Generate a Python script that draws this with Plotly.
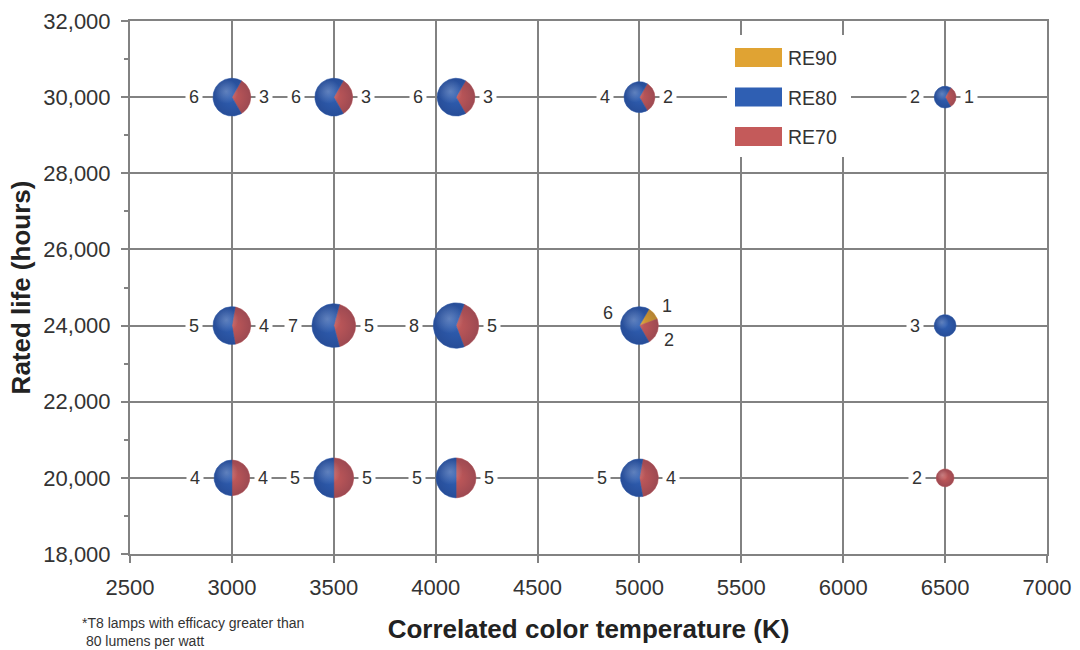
import numpy as np
import plotly.graph_objects as go

# ---- data: lamp counts by correlated color temperature and rated life ----
cct = [3000, 3500, 4100, 5000, 6500,
       3000, 3500, 4100, 5000, 6500,
       3000, 3500, 4100, 5000, 6500]
rated_life = [30000, 30000, 30000, 30000, 30000,
              24000, 24000, 24000, 24000, 24000,
              20000, 20000, 20000, 20000, 20000]
re90 = [0, 0, 0, 0, 0,
        0, 0, 0, 1, 0,
        0, 0, 0, 0, 0]
re80 = [6, 6, 6, 4, 2,
        5, 7, 8, 6, 3,
        4, 5, 5, 5, 0]
re70 = [3, 3, 3, 2, 1,
        4, 5, 5, 2, 0,
        4, 5, 5, 4, 2]

series_names = ["RE90", "RE80", "RE70"]
series_colors = ["#e0a333", "#2f5fb3", "#c45a5a"]

x_tickvals = [2500, 3000, 3500, 4000, 4500, 5000, 5500, 6000, 6500, 7000]
y_tickvals = [18000, 20000, 22000, 24000, 26000, 28000, 30000, 32000]

# ---- geometry of the page ----
W, H = 1080, 650
ML, MR, MT, MB = 130, 33, 21, 96
PW, PH = W - ML - MR, H - MT - MB
XR, YR = [2500, 7000], [18000, 32000]
px_per_x = PW / (XR[1] - XR[0])
px_per_y = PH / (YR[1] - YR[0])
R_SCALE = 6.3          # pie radius (px) per sqrt(lamp count)

FONT = "Liberation Sans, Arial, Helvetica, sans-serif"
GRID = "#828282"
TXT = "#333333"


def arc_points(cx, cy, r, a0, a1):
    """Points on a circle; angles in degrees, clockwise from 12 o'clock."""
    n = max(6, int(abs(a1 - a0) / 2.5) + 1)
    t = np.radians(np.linspace(a0, a1, n))
    return cx + r * np.sin(t) / px_per_x, cy + r * np.cos(t) / px_per_y


fig = go.Figure()
annotations = []
shade_x, shade_y, shade_s = [], [], []
hl_x, hl_y, hl_s = [], [], []

for i in range(len(cct)):
    cx, cy = cct[i], rated_life[i]
    counts = {"RE90": re90[i], "RE80": re80[i], "RE70": re70[i]}
    total = sum(counts.values())
    r = R_SCALE * np.sqrt(total)

    # slices go clockwise: RE90, RE70, RE80; the warm part is centred at 3 o'clock
    start = 90 - (counts["RE90"] + counts["RE70"]) / total * 180
    ang = start
    for name in ["RE90", "RE70", "RE80"]:
        v = counts[name]
        if v == 0:
            continue
        span = v / total * 360
        xs, ys = arc_points(cx, cy, r, ang, ang + span)
        if span < 359.9:
            xs = np.concatenate([[cx], xs, [cx]])
            ys = np.concatenate([[cy], ys, [cy]])
        col = series_colors[series_names.index(name)]
        fig.add_trace(go.Scatter(
            x=xs, y=ys, mode="lines", fill="toself", fillcolor=col,
            line=dict(color=col, width=0.6), hoverinfo="skip", showlegend=False))
        ang += span

    shade_x.append(cx)
    shade_y.append(cy)
    shade_s.append(2 * r)
    hl_x.append(cx - 0.3 * r / px_per_x)
    hl_y.append(cy + 0.3 * r / px_per_y)
    hl_s.append(1.3 * r)

    # count labels
    lab = dict(xref="x", yref="y", x=cx, y=cy, showarrow=False,
               font=dict(family=FONT, size=18, color=TXT))
    if counts["RE90"] > 0:
        annotations.append({**lab, "text": str(counts["RE80"]), "xshift": -(r + 13), "yshift": 13})
        annotations.append({**lab, "text": str(counts["RE90"]), "xshift": r + 9, "yshift": 20})
        annotations.append({**lab, "text": str(counts["RE70"]), "xshift": r + 11, "yshift": -14})
    elif counts["RE80"] > 0 and counts["RE70"] > 0:
        annotations.append({**lab, "text": str(counts["RE80"]), "xshift": -(r + 19),
                            "bgcolor": "white", "borderpad": 3})
        annotations.append({**lab, "text": str(counts["RE70"]), "xshift": r + 13,
                            "bgcolor": "white", "borderpad": 3})
    else:
        annotations.append({**lab, "text": str(total), "xshift": -(r + 19),
                            "bgcolor": "white", "borderpad": 3})

# spherical shading (radial gradient: gradient.color is the centre colour,
# marker.color the rim colour): darker rim, soft light spot at upper left
fig.add_trace(go.Scatter(
    x=shade_x, y=shade_y, mode="markers", hoverinfo="skip", showlegend=False,
    marker=dict(size=shade_s, color="rgba(10,10,50,0.30)", line=dict(width=0),
                gradient=dict(type="radial", color="rgba(10,10,50,0)"))))
fig.add_trace(go.Scatter(
    x=hl_x, y=hl_y, mode="markers", hoverinfo="skip", showlegend=False,
    marker=dict(size=hl_s, color="rgba(255,255,255,0)", line=dict(width=0),
                gradient=dict(type="radial", color="rgba(255,255,255,0.35)"))))


def fx(px):
    return (px - ML) / PW


def fy(py):
    return (H - MB - py) / PH


# legend drawn as a white panel with wide swatches
shapes = [dict(type="rect", xref="paper", yref="paper", layer="above",
               x0=fx(727), x1=fx(851), y0=fy(157), y1=fy(35),
               fillcolor="white", line=dict(width=0))]
for k, (name, col) in enumerate(zip(series_names, series_colors)):
    top = 48 + k * 39.5
    shapes.append(dict(type="rect", xref="paper", yref="paper", layer="above",
                       x0=fx(735), x1=fx(782), y0=fy(top + 19), y1=fy(top),
                       fillcolor=col, line=dict(width=0)))
    annotations.append(dict(xref="paper", yref="paper", x=fx(786), y=fy(top + 10),
                            xanchor="left", yanchor="middle", showarrow=False,
                            text=name, font=dict(family=FONT, size=19.5, color=TXT)))

annotations.append(dict(
    xref="paper", yref="paper", x=fx(80), y=fy(613), xanchor="left", yanchor="top",
    align="left", showarrow=False,
    text="*T8 lamps with efficacy greater than<br> 80 lumens per watt",
    font=dict(family=FONT, size=14, color=TXT)))

axis_common = dict(
    showgrid=True, gridcolor=GRID, gridwidth=2, zeroline=False,
    showline=True, linecolor=GRID, linewidth=2, mirror=True,
    ticks="outside", ticklen=7, tickwidth=2, tickcolor=GRID,
    tickfont=dict(family=FONT, size=22, color=TXT),
)

fig.update_layout(
    width=W, height=H, margin=dict(l=ML, r=MR, t=MT, b=MB, autoexpand=False),
    paper_bgcolor="white", plot_bgcolor="white",
    showlegend=False, shapes=shapes, annotations=annotations,
    xaxis=dict(range=XR, tickvals=x_tickvals, ticklabelstandoff=6,
               title=dict(text="Correlated color temperature (K)", standoff=20,
                          font=dict(family=FONT, size=26, color="#222222", weight="bold")),
               **axis_common),
    yaxis=dict(range=YR, tickvals=y_tickvals, tickformat=",d", ticklabelstandoff=6,
               minor=dict(dtick=1000, ticks="outside", ticklen=4, tickwidth=2,
                          tickcolor=GRID, showgrid=False),
               title=dict(text="Rated life (hours)", standoff=5,
                          font=dict(family=FONT, size=26, color="#222222", weight="bold")),
               **axis_common),
)

fig.write_html("out.html")
